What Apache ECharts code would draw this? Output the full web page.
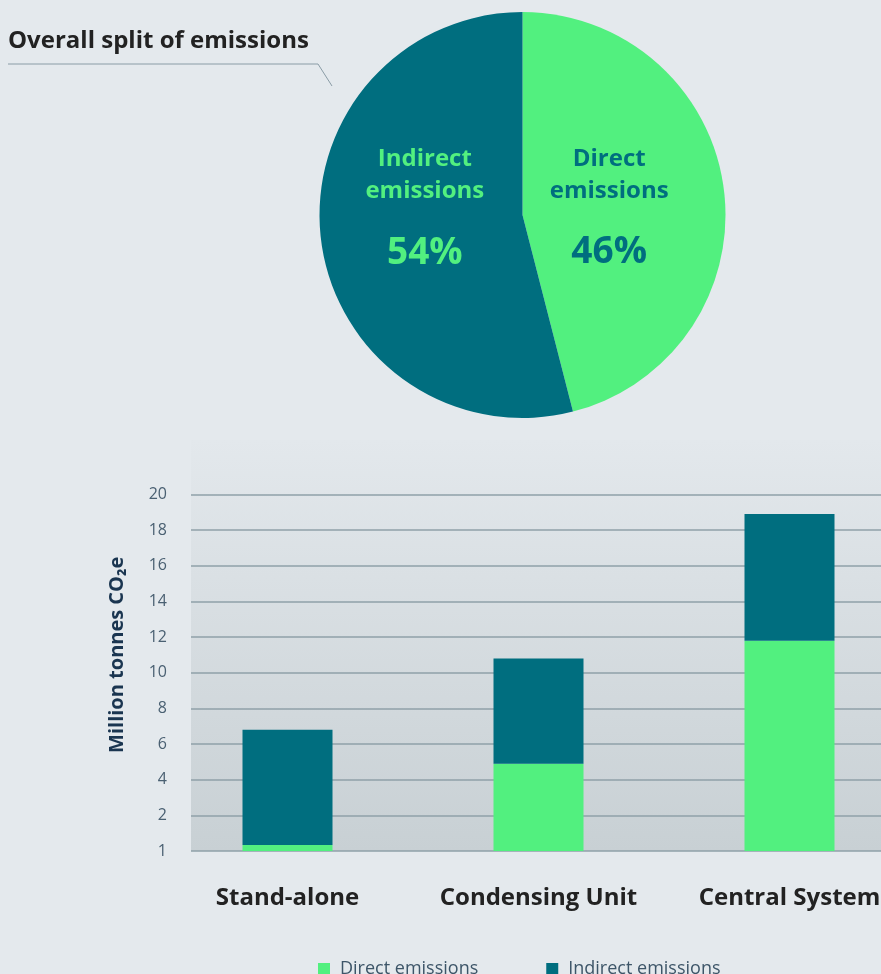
<!DOCTYPE html>
<html>
<head>
<meta charset="utf-8">
<script src="https://cdn.jsdelivr.net/npm/echarts@6/dist/echarts.min.js"></script>
<style>
html,body{margin:0;padding:0;background:#e4e9ed;}
#chart{width:881px;height:974px;}
</style>
</head>
<body>
<div id="chart"></div>
<script>
// ---- data ----
var pieNames = ['Direct emissions', 'Indirect emissions'];
var pieValues = [46, 54];
var categories = ['Stand-alone', 'Condensing Unit', 'Central System'];
var directValues = [0.33, 4.9, 11.8];
var indirectValues = [6.47, 5.9, 7.1];
var yTickLabels = ['1', '2', '4', '6', '8', '10', '12', '14', '16', '18', '20'];
var titleText = 'Overall split of emissions';
var yAxisName = 'Million tonnes CO\u2082e';

var GREEN = '#52f07f', TEAL = '#006e7f';
var chart = echarts.init(document.getElementById('chart'), null, {renderer: 'canvas'});

function pieRich(color) {
  return {
    a: {color: color, fontSize: 24, fontWeight: 'bold', fontFamily: 'Open Sans', lineHeight: 32, align: 'center'},
    s: {lineHeight: 22},
    b: {color: color, fontSize: 37, fontWeight: 'bold', fontFamily: 'Open Sans', lineHeight: 48, align: 'center'}
  };
}

var option = {
  backgroundColor: '#e4e9ed',
  animation: false,
  graphic: [
    {type: 'rect', z: -10, shape: {x: 191, y: 440, width: 690, height: 411},
     style: {fill: new echarts.graphic.LinearGradient(0, 0, 0, 1, [
       {offset: 0, color: '#e3e8ec'}, {offset: 1, color: '#c8d0d4'}])}},
    {type: 'text', left: 8, top: 29, style: {text: titleText, font: 'bold 24px "Open Sans"', fill: '#222222'}},
    {type: 'polyline', shape: {points: [[8, 64], [318, 64], [332, 86]]},
     style: {stroke: '#8a9ca6', lineWidth: 1, fill: null}}
  ],
  legend: {
    data: pieNames, left: 313, top: 955, itemWidth: 12, itemHeight: 12, itemGap: 68,
    icon: 'rect',
    textStyle: {color: '#3d5568', fontSize: 18, fontFamily: 'Open Sans', padding: [0, 0, 0, 5]}
  },
  grid: [
    {left: 191, right: 0, top: 494.5, bottom: 123, outerBoundsMode: 'none'},
    {left: 162, width: 753, top: 494.5, bottom: 123, outerBoundsMode: 'none'}
  ],
  xAxis: [
    {type: 'category', gridIndex: 0, data: categories, show: false},
    {type: 'category', gridIndex: 1, data: categories,
     axisLine: {show: false}, axisTick: {show: false},
     axisLabel: {interval: 0, hideOverlap: false, margin: 35, color: '#222222', fontSize: 24, fontWeight: 'bold', fontFamily: 'Open Sans'}}
  ],
  yAxis: [
    {type: 'value', gridIndex: 0, min: 0, max: 20, interval: 2,
     name: yAxisName, nameLocation: 'middle', nameRotate: 90, nameGap: 64,
     nameTextStyle: {color: '#1a3550', fontSize: 20, fontWeight: 'bold', fontFamily: 'Open Sans', padding: [0, 0, 0, 36]},
     axisLine: {show: false}, axisTick: {show: false},
     axisLabel: {margin: 24, color: '#4a6072', fontSize: 16, fontFamily: 'Open Sans',
       formatter: function (v) { return yTickLabels[Math.round(v / 2)]; }},
     splitLine: {lineStyle: {color: '#8fa0a8', width: 1.5}}},
    {type: 'value', gridIndex: 1, min: 0, max: 20, interval: 2, show: false, splitLine: {show: false}}
  ],
  series: [
    {type: 'pie', center: [522.5, 215], radius: 203, startAngle: 90, clockwise: true,
     labelLine: {show: false}, emphasis: {disabled: true},
     data: [
       {name: pieNames[0], value: pieValues[0], itemStyle: {color: GREEN},
        label: {show: true, position: 'inside', offset: [-17, 8],
          formatter: function () { return '{a|Direct}\n{a|emissions}\n{s|}\n{b|' + pieValues[0] + '%}'; },
          rich: pieRich(TEAL)}},
       {name: pieNames[1], value: pieValues[1], itemStyle: {color: TEAL},
        label: {show: true, position: 'inside', offset: [6, -18],
          formatter: function () { return '{a|Indirect}\n{a|emissions}\n{s|}\n{b|' + pieValues[1] + '%}'; },
          rich: pieRich(GREEN)}}
     ]},
    {name: pieNames[0], type: 'bar', xAxisIndex: 1, yAxisIndex: 1, stack: 'e', barWidth: 90,
     itemStyle: {color: GREEN}, data: directValues},
    {name: pieNames[1], type: 'bar', xAxisIndex: 1, yAxisIndex: 1, stack: 'e', barWidth: 90,
     itemStyle: {color: TEAL}, data: indirectValues}
  ]
};
chart.setOption(option);
</script>
</body>
</html>
